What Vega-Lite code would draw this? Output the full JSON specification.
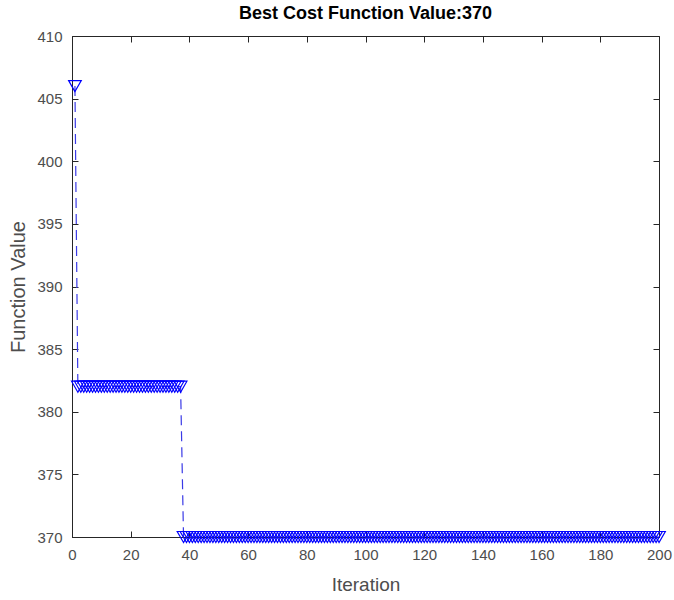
{
  "$schema": "https://vega.github.io/schema/vega-lite/v6.json",
  "width": 587,
  "height": 501,
  "autosize": "none",
  "padding": {"left": 72, "top": 36, "right": 15, "bottom": 63},
  "background": "white",
  "title": {"text": "Best Cost Function Value:370", "font": "Liberation Sans", "fontSize": 18, "fontWeight": "bold", "color": "#000000", "offset": 6},
  "config": {
    "view": {"stroke": "#262626", "strokeWidth": 1},
    "axis": {"grid": false, "labelFlush": false, "labelFont": "Liberation Sans", "labelFontSize": 15, "labelColor": "#4d4d4d", "titleFont": "Liberation Sans", "titleFontWeight": "normal", "titleColor": "#4d4d4d", "domainColor": "#262626", "tickColor": "#262626", "tickSize": -6}
  },
  "data": {"values": [
{"i":1,"v":406},
{"i":2,"v":382},{"i":3,"v":382},{"i":4,"v":382},{"i":5,"v":382},{"i":6,"v":382},{"i":7,"v":382},{"i":8,"v":382},{"i":9,"v":382},{"i":10,"v":382},
{"i":11,"v":382},{"i":12,"v":382},{"i":13,"v":382},{"i":14,"v":382},{"i":15,"v":382},{"i":16,"v":382},{"i":17,"v":382},{"i":18,"v":382},{"i":19,"v":382},{"i":20,"v":382},
{"i":21,"v":382},{"i":22,"v":382},{"i":23,"v":382},{"i":24,"v":382},{"i":25,"v":382},{"i":26,"v":382},{"i":27,"v":382},{"i":28,"v":382},{"i":29,"v":382},{"i":30,"v":382},
{"i":31,"v":382},{"i":32,"v":382},{"i":33,"v":382},{"i":34,"v":382},{"i":35,"v":382},{"i":36,"v":382},{"i":37,"v":382},
{"i":38,"v":370},{"i":39,"v":370},{"i":40,"v":370},
{"i":41,"v":370},{"i":42,"v":370},{"i":43,"v":370},{"i":44,"v":370},{"i":45,"v":370},{"i":46,"v":370},{"i":47,"v":370},{"i":48,"v":370},{"i":49,"v":370},{"i":50,"v":370},
{"i":51,"v":370},{"i":52,"v":370},{"i":53,"v":370},{"i":54,"v":370},{"i":55,"v":370},{"i":56,"v":370},{"i":57,"v":370},{"i":58,"v":370},{"i":59,"v":370},{"i":60,"v":370},
{"i":61,"v":370},{"i":62,"v":370},{"i":63,"v":370},{"i":64,"v":370},{"i":65,"v":370},{"i":66,"v":370},{"i":67,"v":370},{"i":68,"v":370},{"i":69,"v":370},{"i":70,"v":370},
{"i":71,"v":370},{"i":72,"v":370},{"i":73,"v":370},{"i":74,"v":370},{"i":75,"v":370},{"i":76,"v":370},{"i":77,"v":370},{"i":78,"v":370},{"i":79,"v":370},{"i":80,"v":370},
{"i":81,"v":370},{"i":82,"v":370},{"i":83,"v":370},{"i":84,"v":370},{"i":85,"v":370},{"i":86,"v":370},{"i":87,"v":370},{"i":88,"v":370},{"i":89,"v":370},{"i":90,"v":370},
{"i":91,"v":370},{"i":92,"v":370},{"i":93,"v":370},{"i":94,"v":370},{"i":95,"v":370},{"i":96,"v":370},{"i":97,"v":370},{"i":98,"v":370},{"i":99,"v":370},{"i":100,"v":370},
{"i":101,"v":370},{"i":102,"v":370},{"i":103,"v":370},{"i":104,"v":370},{"i":105,"v":370},{"i":106,"v":370},{"i":107,"v":370},{"i":108,"v":370},{"i":109,"v":370},{"i":110,"v":370},
{"i":111,"v":370},{"i":112,"v":370},{"i":113,"v":370},{"i":114,"v":370},{"i":115,"v":370},{"i":116,"v":370},{"i":117,"v":370},{"i":118,"v":370},{"i":119,"v":370},{"i":120,"v":370},
{"i":121,"v":370},{"i":122,"v":370},{"i":123,"v":370},{"i":124,"v":370},{"i":125,"v":370},{"i":126,"v":370},{"i":127,"v":370},{"i":128,"v":370},{"i":129,"v":370},{"i":130,"v":370},
{"i":131,"v":370},{"i":132,"v":370},{"i":133,"v":370},{"i":134,"v":370},{"i":135,"v":370},{"i":136,"v":370},{"i":137,"v":370},{"i":138,"v":370},{"i":139,"v":370},{"i":140,"v":370},
{"i":141,"v":370},{"i":142,"v":370},{"i":143,"v":370},{"i":144,"v":370},{"i":145,"v":370},{"i":146,"v":370},{"i":147,"v":370},{"i":148,"v":370},{"i":149,"v":370},{"i":150,"v":370},
{"i":151,"v":370},{"i":152,"v":370},{"i":153,"v":370},{"i":154,"v":370},{"i":155,"v":370},{"i":156,"v":370},{"i":157,"v":370},{"i":158,"v":370},{"i":159,"v":370},{"i":160,"v":370},
{"i":161,"v":370},{"i":162,"v":370},{"i":163,"v":370},{"i":164,"v":370},{"i":165,"v":370},{"i":166,"v":370},{"i":167,"v":370},{"i":168,"v":370},{"i":169,"v":370},{"i":170,"v":370},
{"i":171,"v":370},{"i":172,"v":370},{"i":173,"v":370},{"i":174,"v":370},{"i":175,"v":370},{"i":176,"v":370},{"i":177,"v":370},{"i":178,"v":370},{"i":179,"v":370},{"i":180,"v":370},
{"i":181,"v":370},{"i":182,"v":370},{"i":183,"v":370},{"i":184,"v":370},{"i":185,"v":370},{"i":186,"v":370},{"i":187,"v":370},{"i":188,"v":370},{"i":189,"v":370},{"i":190,"v":370},
{"i":191,"v":370},{"i":192,"v":370},{"i":193,"v":370},{"i":194,"v":370},{"i":195,"v":370},{"i":196,"v":370},{"i":197,"v":370},{"i":198,"v":370},{"i":199,"v":370},{"i":200,"v":370}
  ]},
  "resolve": {"axis": {"x": "independent", "y": "independent"}},
  "layer": [
    {
      "mark": {"type": "line", "color": "#3a3ae6", "strokeWidth": 1.2, "strokeDash": [10, 6], "clip": false},
      "encoding": {
        "x": {"field": "i", "type": "quantitative", "scale": {"domain": [0, 200], "nice": false, "zero": false}, "axis": {"title": "Iteration", "titleFontSize": 19, "values": [0,20,40,60,80,100,120,140,160,180,200], "labelPadding": 16, "titlePadding": 13}},
        "y": {"field": "v", "type": "quantitative", "scale": {"domain": [370, 410], "nice": false, "zero": false}, "axis": {"title": "Function Value", "titleFontSize": 20, "values": [370,375,380,385,390,395,400,405,410], "labelPadding": 16, "titlePadding": 8}}
      }
    },
    {
      "mark": {"type": "point", "shape": "triangle-down", "size": 160, "filled": false, "color": "#0000ff", "strokeWidth": 1.2, "opacity": 1, "clip": false},
      "encoding": {
        "x": {"field": "i", "type": "quantitative", "scale": {"domain": [0, 200], "nice": false, "zero": false}, "axis": {"orient": "top", "title": null, "labels": false, "domain": false, "values": [0,20,40,60,80,100,120,140,160,180,200]}},
        "y": {"field": "v", "type": "quantitative", "scale": {"domain": [370, 410], "nice": false, "zero": false}, "axis": {"orient": "right", "title": null, "labels": false, "domain": false, "values": [370,375,380,385,390,395,400,405,410]}}
      }
    }
  ]
}
